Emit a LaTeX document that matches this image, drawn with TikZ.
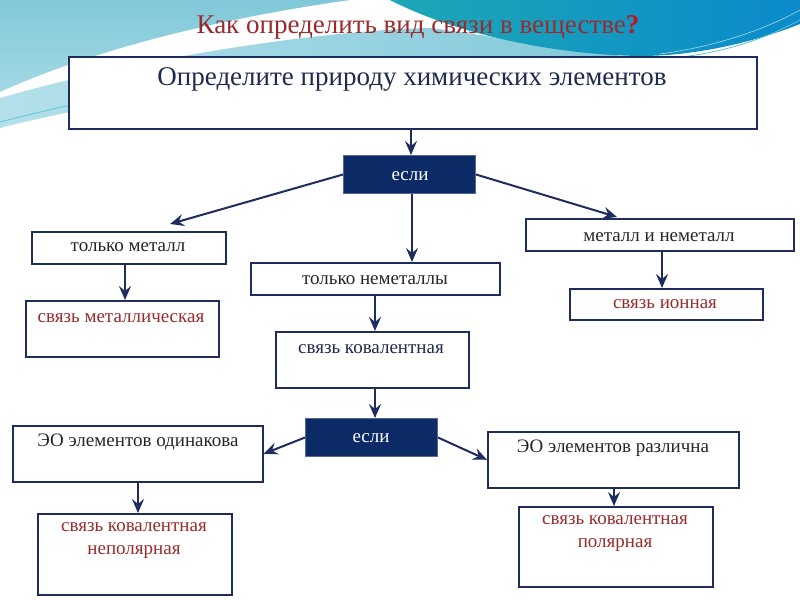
\documentclass[tikz,border=0pt]{standalone}
\usepackage{fontspec}
\setmainfont{Liberation Serif}
\usetikzlibrary{arrows.meta,calc}
\definecolor{navy}{HTML}{1F2D5E}
\definecolor{ifbg}{HTML}{0B2A66}
\definecolor{dred}{HTML}{9B2B2B}
\definecolor{qred}{HTML}{C0141E}
\definecolor{ttxt}{HTML}{262626}
\definecolor{ntxt}{HTML}{1E2A4E}
\definecolor{lblue}{HTML}{80C8D9}
\definecolor{lblue2}{HTML}{B4E0EA}
\definecolor{teal1}{HTML}{1CA8B6}
\definecolor{teal2}{HTML}{0A8ACB}
\begin{document}
\begin{tikzpicture}[x=1pt,y=-1pt,
  boxst/.style={draw=navy, line width=1.6pt, fill=white, inner sep=0pt, anchor=north west},
  ifst/.style={draw=ifbg!70!white, line width=1pt, fill=ifbg, inner sep=0pt, anchor=north west},
  txt/.style={inner sep=0pt, font=\fontsize{19}{23}\selectfont, text=ttxt, align=center},
  rtxt/.style={txt, text=dred},
  wtxt/.style={txt, text=white},
  arr/.style={draw=navy, line width=2pt, -{Stealth[length=14pt,width=12pt,inset=5pt]}}]
\useasboundingbox (0,0) rectangle (800,600);
\fill[white] (0,0) rectangle (800,600);
% background swooshes
\shade[left color=lblue2, right color=lblue] (0,98) .. controls (150,55) and (330,30) .. (430,28) .. controls (510,38) and (570,52) .. (645,58) .. controls (500,61) and (220,72) .. (0,128) -- cycle;
\shade[top color=lblue, bottom color=lblue2!70!lblue] (0,0) -- (350,0) .. controls (250,14) and (110,42) .. (0,92) -- cycle;
\shade[left color=teal1, right color=teal2] (390,0) -- (800,0) -- (800,24) .. controls (760,40) and (700,56) .. (640,56) .. controls (560,55) and (460,36) .. (390,0) -- cycle;
\draw[teal1!70!white, line width=0.8pt] (0,122) .. controls (200,70) and (420,50) .. (640,60) .. controls (720,58) and (770,36) .. (800,20);
\draw[white!60!teal1, line width=0.6pt] (660,54) .. controls (720,46) and (770,27) .. (800,10);
% title
\node[inner sep=0pt, font=\fontsize{27}{30}\selectfont, text=dred] (title) at (418,27) {Как определить вид связи в веществе\textcolor{qred}{\textbf{?}}};
% boxes
\node[boxst, line width=2pt, minimum width=688pt, minimum height=72pt] (top) at (68,56) {};
\node[ifst, minimum width=132pt, minimum height=38pt] (if1) at (343,155) {};
\node[boxst, minimum width=194pt, minimum height=32pt] (m) at (31,231) {};
\node[boxst, minimum width=249pt, minimum height=32pt] (nm) at (250,262) {};
\node[boxst, minimum width=268pt, minimum height=32pt] (mn) at (525,218) {};
\node[boxst, minimum width=193pt, minimum height=56pt] (mb) at (25,300) {};
\node[boxst, minimum width=193pt, minimum height=31pt] (ib) at (569,288) {};
\node[boxst, minimum width=193pt, minimum height=56pt] (cb) at (275,331) {};
\node[ifst, minimum width=132pt, minimum height=38pt] (if2) at (305,418) {};
\node[boxst, minimum width=250pt, minimum height=56pt] (eq) at (12,425) {};
\node[boxst, minimum width=251pt, minimum height=56pt] (diff) at (487,431) {};
\node[boxst, minimum width=194pt, minimum height=81pt] (np) at (37,513) {};
\node[boxst, minimum width=194pt, minimum height=80pt] (p) at (518,506) {};
% texts
\node[txt, font=\fontsize{27}{30}\selectfont, text=ntxt] (topt) at (412,79) {Определите природу химических элементов};
\node[wtxt] (if1t) at (410,176) {если};
\node[txt] (mt) at (128,247) {только металл};
\node[txt] (nmt) at (375,280) {только неметаллы};
\node[txt] (mnt) at (659,237) {металл и неметалл};
\node[rtxt] (mbt) at (121,318) {связь металлическая};
\node[rtxt] (ibt) at (665,304) {связь ионная};
\node[txt, text=ntxt] (cbt) at (371,349) {связь ковалентная};
\node[wtxt] (if2t) at (371,438) {если};
\node[txt] (eqt) at (138,442) {ЭО элементов одинакова};
\node[txt] (difft) at (613,448) {ЭО элементов различна};
\node[rtxt, anchor=north] (npt) at (134,522) {связь ковалентная\\неполярная};
\node[rtxt, anchor=north] (pt) at (615,515) {связь ковалентная\\полярная};
% connectors
\coordinate (t1) at (170,224);
\coordinate (t2) at (617,217);
\draw[arr] (top.south -| 411,0) -- (if1.north -| 411,0);
\draw[arr] (if1.west) -- (t1);
\draw[arr] (if1.east) -- (t2);
\draw[arr] (if1.south -| 412,0) -- (nm.north -| 412,0);
\draw[arr] (m.south -| 125,0) -- (mb.north -| 125,0);
\draw[arr] (nm.south -| 375,0) -- (cb.north -| 375,0);
\draw[arr] (mn.south -| 662,0) -- (ib.north -| 662,0);
\draw[arr] (cb.south -| 375,0) -- (if2.north -| 375,0);
\draw[arr] (if2.west) -- (eq.east);
\draw[arr] (if2.east) -- (diff.west);
\draw[arr] (eq.south -| 138,0) -- (np.north -| 138,0);
\draw[arr] (diff.south -| 614,0) -- (p.north -| 614,0);
\end{tikzpicture}
\end{document}
